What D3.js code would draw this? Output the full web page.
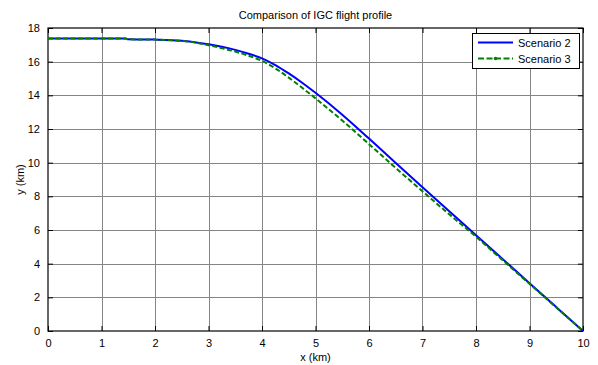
<!DOCTYPE html>
<html>
<head>
<meta charset="utf-8">
<script src="https://cdn.jsdelivr.net/npm/d3@7"></script>
<style>
  html, body { margin: 0; padding: 0; background: #fff; }
  svg { display: block; font-family: "Liberation Sans", Arial, sans-serif; }
</style>
</head>
<body>
<svg id="chart" width="598" height="365"></svg>
<script>
// Flight profile samples: horizontal distance (km) and altitude (km)
const xScenario2 = [0, 1.45, 1.5, 2.0, 2.5, 2.8, 3.0, 3.25, 3.5, 3.75, 4.0, 4.25, 4.5, 4.75, 5.0, 5.5, 6.0, 6.5, 7.0, 7.5, 8.0, 8.5, 9.0, 9.5, 10.0];
const yScenario2 = [17.38, 17.38, 17.33, 17.31, 17.24, 17.13, 17.03, 16.88, 16.7, 16.47, 16.2, 15.8, 15.3, 14.75, 14.15, 12.85, 11.43, 9.98, 8.54, 7.11, 5.69, 4.27, 2.84, 1.42, 0];

const xScenario3 = [0, 1.45, 1.5, 2.0, 2.5, 2.8, 3.0, 3.25, 3.5, 3.75, 4.0, 4.25, 4.5, 4.75, 5.0, 5.5, 6.0, 6.5, 7.0, 7.5, 8.0, 8.5, 9.0, 9.5, 10.0];
const yScenario3 = [17.38, 17.38, 17.33, 17.31, 17.23, 17.11, 16.98, 16.8, 16.6, 16.35, 16.05, 15.6, 15.05, 14.45, 13.82, 12.5, 11.1, 9.68, 8.3, 6.93, 5.6, 4.2, 2.8, 1.4, 0];

const xTicks = [0, 1, 2, 3, 4, 5, 6, 7, 8, 9, 10];
const yTicks = [0, 2, 4, 6, 8, 10, 12, 14, 16, 18];

const seriesNames = ["Scenario 2", "Scenario 3"];
const seriesColors = ["#0000ff", "#008000"];

const svg = d3.select("#chart");
const margin = { left: 48, right: 15, top: 28, bottom: 34 };
const W = 598, H = 365;

const x = d3.scaleLinear().domain([0, 10]).range([margin.left, W - margin.right]);
const y = d3.scaleLinear().domain([0, 18]).range([H - margin.bottom, margin.top]);

const x0 = x.range()[0], x1 = x.range()[1];
const y0 = y.range()[0], y1 = y.range()[1];

// white plotting area
svg.append("rect").attr("x", x0).attr("y", y1).attr("width", x1 - x0).attr("height", y0 - y1).attr("fill", "#fff");

// grid
const grid = svg.append("g").attr("stroke", "#858585").attr("stroke-width", 1);
grid.selectAll(".gx").data(xTicks.slice(1, -1)).join("line")
  .attr("x1", d => Math.round(x(d)) + 0.5).attr("x2", d => Math.round(x(d)) + 0.5)
  .attr("y1", y1).attr("y2", y0);
grid.selectAll(".gy").data(yTicks.slice(1, -1)).join("line")
  .attr("y1", d => Math.round(y(d)) + 0.5).attr("y2", d => Math.round(y(d)) + 0.5)
  .attr("x1", x0).attr("x2", x1);

// axes with inward ticks on all four sides
const tickLen = 5;
const fontSize = 11;
const axB = d3.axisBottom(x).tickValues(xTicks).tickSizeInner(-tickLen).tickSizeOuter(0).tickPadding(8);
const axT = d3.axisTop(x).tickValues(xTicks).tickSizeInner(-tickLen).tickSizeOuter(0).tickFormat("");
const axL = d3.axisLeft(y).tickValues(yTicks).tickSizeInner(-tickLen).tickSizeOuter(0).tickPadding(8);
const axR = d3.axisRight(y).tickValues(yTicks).tickSizeInner(-tickLen).tickSizeOuter(0).tickFormat("");

function styleAxis(g) {
  g.select(".domain").remove();
  g.selectAll("line").attr("stroke", "#000");
  g.selectAll("text").attr("fill", "#000").attr("font-size", fontSize).attr("font-family", "Liberation Sans, Arial, sans-serif");
}
svg.append("g").attr("transform", `translate(0,${y0})`).call(axB).call(styleAxis);
svg.append("g").attr("transform", `translate(0,${y1})`).call(axT).call(styleAxis);
svg.append("g").attr("transform", `translate(${x0},0)`).call(axL).call(styleAxis);
svg.append("g").attr("transform", `translate(${x1},0)`).call(axR).call(styleAxis);

// plot box
svg.append("rect").attr("x", x0).attr("y", y1).attr("width", x1 - x0).attr("height", y0 - y1)
  .attr("fill", "none").attr("stroke", "#000").attr("stroke-width", 1.2);

// profiles
const lineGen = d3.line().x(d => x(d[0])).y(d => y(d[1])).curve(d3.curveMonotoneX);
const s2 = xScenario2.map((v, i) => [v, yScenario2[i]]);
const s3 = xScenario3.map((v, i) => [v, yScenario3[i]]);

svg.append("path").datum(s2).attr("d", lineGen)
  .attr("fill", "none").attr("stroke", seriesColors[0]).attr("stroke-width", 2);
svg.append("path").datum(s3).attr("d", lineGen)
  .attr("fill", "none").attr("stroke", seriesColors[1]).attr("stroke-width", 2)
  .attr("stroke-dasharray", "5,2.5");

// title and axis labels
svg.append("text").attr("x", (x0 + x1) / 2).attr("y", 19).attr("text-anchor", "middle")
  .attr("font-size", fontSize).attr("fill", "#000").text("Comparison of IGC flight profile");
svg.append("text").attr("x", (x0 + x1) / 2).attr("y", 361).attr("text-anchor", "middle")
  .attr("font-size", fontSize).attr("fill", "#000").text("x (km)");
svg.append("text").attr("transform", `translate(24,${(y0 + y1) / 2}) rotate(-90)`).attr("text-anchor", "middle")
  .attr("font-size", fontSize).attr("fill", "#000").text("y (km)");

// legend
const lg = svg.append("g");
lg.append("rect").attr("x", 472.5).attr("y", 33.5).attr("width", 107).attr("height", 35)
  .attr("fill", "#fff").attr("stroke", "#000").attr("stroke-width", 1);
const legendRows = [42.5, 58.5];
seriesNames.forEach((name, i) => {
  const ly = legendRows[i];
  const seg = lg.append("line").attr("x1", 478).attr("x2", 513).attr("y1", ly).attr("y2", ly)
    .attr("stroke", seriesColors[i]).attr("stroke-width", 2);
  if (i === 1) {
    seg.attr("stroke-dasharray", "6,2.5");
    lg.append("circle").attr("cx", 495.5).attr("cy", ly).attr("r", 1.8).attr("fill", seriesColors[i]);
  }
  lg.append("text").attr("x", 518).attr("y", ly + 4).attr("font-size", fontSize).attr("fill", "#000").text(name);
});
</script>
</body>
</html>
